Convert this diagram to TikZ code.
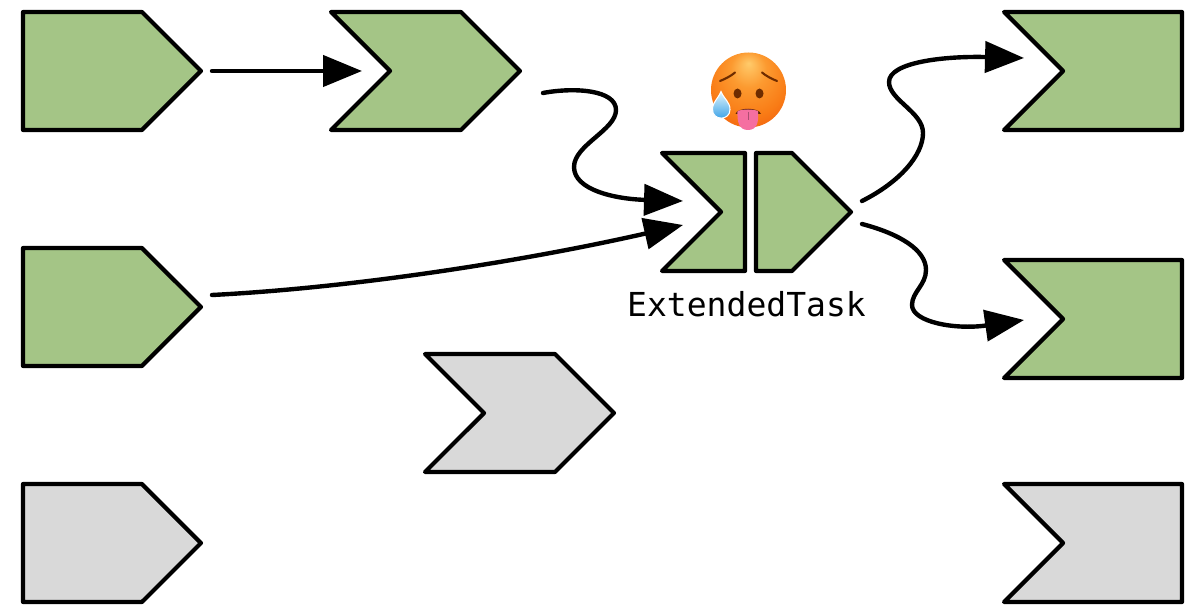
\documentclass[tikz,border=0pt]{standalone}
\usepackage{fontspec}
\newfontfamily\codefont{DejaVu Sans Mono}
\usepackage{xcolor}
\definecolor{taskGreen}{HTML}{A4C586}
\definecolor{taskGray}{HTML}{D9D9D9}
\definecolor{faceTop}{HTML}{FFCB6B}
\definecolor{faceUpper}{HTML}{FC9A30}
\definecolor{faceMid}{HTML}{F97C16}
\definecolor{faceEdge}{HTML}{EA4706}
\definecolor{faceDark}{HTML}{6E2C00}
\definecolor{tongue}{HTML}{F56FA1}
\definecolor{dropLight}{HTML}{E3F7FC}
\definecolor{dropBlue}{HTML}{2F9BE6}
\usetikzlibrary{shapes.symbols,arrows.meta,calc}
\pgfdeclareradialshading{hotface}{\pgfpoint{0bp}{18bp}}{%
    color(0bp)=(faceTop); color(12bp)=(faceUpper); color(26bp)=(faceMid); color(44bp)=(faceEdge); color(50bp)=(faceEdge)}
\tikzset{
    task/.style={
        signal,
        draw=black,
        line width=2.4pt,
        line join=round,
        signal pointer angle=90,
        minimum height=2.36cm,
        inner sep=0pt,
        outer sep=0pt
    },
    head/.style={task, signal to=east, signal from=nowhere, minimum width=3.56cm},
    chevron/.style={task, signal to=east, signal from=west, minimum width=3.78cm},
    tail/.style={task, signal to=nowhere, signal from=west, minimum width=3.56cm},
    done/.style={fill=taskGreen},
    idle/.style={fill=taskGray},
    flow/.style={
        -{Triangle[length=0.78cm,width=0.62cm]},
        line width=2.5pt,
        line cap=round,
        color=black
    }
}

\begin{document}
\begin{tikzpicture}[x=0.02cm,y=-0.02cm]
    \useasboundingbox (0,0) rectangle (1192,614);

    % Left column
    \node[head, done] (readA) at (82.5,71) {};
    \node[head, done] (readB) at (82.5,307) {};
    \node[head, idle] (readC) at (82.5,543) {};

    % Middle tasks
    \node[chevron, done] (parse) at (425.5,71) {};
    \node[chevron, idle] (other) at (519.5,413) {};

    % Split task
    \node[tail, done, minimum width=1.66cm] (extIn) at (733,212) {};
    \node[head, done, minimum width=1.9cm] (extOut) at (774,212) {};
    \node[font=\codefont\fontsize{18.8}{22}\selectfont, inner sep=0pt] (extLabel) at (746.5,304) {ExtendedTask};

    % Right column
    \node[tail, done] (writeA) at (1122.5,71) {};
    \node[tail, done] (writeB) at (1122.5,319) {};
    \node[tail, idle] (writeC) at (1122.5,543) {};

    % Arrows
    \draw[flow] ([xshift=0.22cm]readA.east) -- ([xshift=-0.56cm]parse.west);
    \draw[flow] ([shift={(23,22)}]parse.east)
        .. controls +(32,-6) and (616,90) .. (616,110)
        .. controls (616,130) and (574,145) .. (574,167)
        .. controls (574,190) and (615,199) .. ([shift={(-38,-11)}]extIn.west);
    \draw[flow] ([shift={(11,-12)}]readB.east)
        .. controls (350,288) and (520,262) .. ([shift={(-38,13)}]extIn.west);
    \draw[flow] ([shift={(11,-11)}]extOut.east)
        .. controls (900,182) and (923,155) .. (923,133)
        .. controls (923,112) and (889,100) .. (889,82)
        .. controls (889,62) and (945,56) .. ([shift={(-39,-13)}]writeA.west);
    \draw[flow] ([shift={(11,12)}]extOut.east)
        .. controls (900,234) and (926,250) .. (926,270)
        .. controls (926,285) and (912,292) .. (912,305)
        .. controls (912,322) and (955,330) .. ([shift={(-39,1)}]writeB.west);

    % Emoji
    \shade[shading=hotface] (748.5,90) circle[radius=37.5];
    \draw[faceDark, line width=1.2pt, line cap=round] (720,81) .. controls (725,79) and (731,76) .. (735,72.5);
    \draw[faceDark, line width=1.2pt, line cap=round] (777,81) .. controls (772,79) and (766,76) .. (762,72.5);
    \fill[faceDark] (737.5,93.5) ellipse[x radius=4, y radius=5];
    \fill[faceDark] (759.5,93.5) ellipse[x radius=4, y radius=5];
    \fill[faceDark!80!black] (735.5,114) .. controls (737,107) and (759,107) .. (761,114) -- cycle;
    \fill[tongue] (737.5,111) .. controls (743,109) and (753,109) .. (758,111) .. controls (759,122) and (757,130) .. (748,130) .. controls (739,130) and (737,122) .. (737.5,111) -- cycle;
    \draw[tongue!70!black, line width=0.4pt] (748,112) -- (748,120);
    \shade[top color=dropLight, bottom color=dropBlue, draw=white, line width=0.6pt] (721,91.5)
        .. controls (724,99) and (730,102) .. (730,109.5)
        .. controls (730,121) and (712.5,121) .. (712.5,109.5)
        .. controls (712.5,102) and (718,99) .. (721,91.5) -- cycle;
\end{tikzpicture}
\end{document}
